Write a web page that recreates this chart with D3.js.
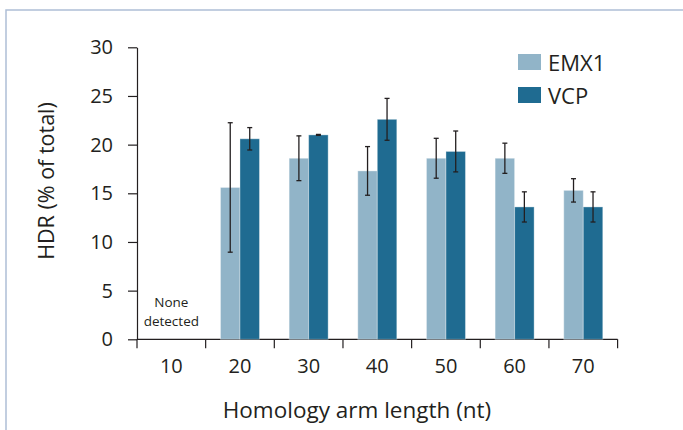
<!DOCTYPE html>
<html>
<head>
<meta charset="utf-8">
<script src="https://cdn.jsdelivr.net/npm/d3@7"></script>
<style>
  body { margin: 0; background: #fff; }
  svg { display: block; font-family: "Open Sans", sans-serif; }
</style>
</head>
<body>
<div id="container"></div>
<script>
// homology arm length categories (nt)
const lengths = ['10', '20', '30', '40', '50', '60', '70']
const seriesNames = ['EMX1', 'VCP']
// HDR (% of total), null = none detected
const emx1 = [null, 15.6, 18.6, 17.3, 18.6, 18.6, 15.3]
const emx1Err = [null, 6.65, 2.3, 2.5, 2.05, 1.55, 1.2]
const vcp = [null, 20.6, 21.0, 22.6, 19.3, 13.6, 13.6]
const vcpErr = [null, 1.15, 0.05, 2.15, 2.1, 1.55, 1.55]
const yTicks = [0, 5, 10, 15, 20, 25, 30]

const width = 683
const height = 430
const textColor = '#231f20'
const colors = { EMX1: '#91b4c8', VCP: '#1f6b91' }

const svg = d3.select('#container')
    .append('svg')
    .attr('width', width)
    .attr('height', height)

// frame
svg.append('path')
    .attr('d', `M6,${height} V10 H${width}`)
    .attr('fill', 'none')
    .attr('stroke', '#aebfd6')
    .attr('stroke-width', 1.5)

const x = d3.scaleBand()
    .domain(lengths)
    .range([137, 617.6])
    .padding(0)

const groupW = 39
const x1 = d3.scaleBand()
    .domain(seriesNames)
    .range([(x.bandwidth() - groupW) / 2, (x.bandwidth() + groupW) / 2])
    .padding(0)

const y = d3.scaleLinear()
    .domain([0, 30])
    .range([339.3, 47.3])

// y axis
const yAxis = d3.axisLeft(y)
    .tickValues(yTicks)
    .tickSize(9)
    .tickSizeOuter(0)
    .tickPadding(15)
svg.append('g')
    .attr('transform', 'translate(137, 0)')
    .call(yAxis)
    .call(g => g.selectAll('path, line').attr('stroke', textColor).attr('stroke-width', 1.2))
    .call(g => g.selectAll('text')
        .attr('fill', textColor)
        .attr('font-size', 20)
        .attr('font-family', '"Open Sans", sans-serif'))

// x axis: line, boundary ticks, centered labels
const xAxisG = svg.append('g').attr('transform', `translate(0, ${y(0)})`)
xAxisG.append('line')
    .attr('x1', x.range()[0]).attr('x2', x.range()[1])
    .attr('stroke', textColor).attr('stroke-width', 1.2)
const edges = lengths.map(d => x(d)).concat([x.range()[1]])
xAxisG.selectAll('.tick-edge').data(edges)
    .join('line')
    .attr('class', 'tick-edge')
    .attr('x1', d => d).attr('x2', d => d)
    .attr('y1', 0).attr('y2', 9)
    .attr('stroke', textColor).attr('stroke-width', 1.2)
xAxisG.selectAll('.tick-label').data(lengths)
    .join('text')
    .attr('class', 'tick-label')
    .attr('x', d => x(d) + x.bandwidth() / 2)
    .attr('y', 34)
    .attr('text-anchor', 'middle')
    .attr('font-size', 20)
    .attr('fill', textColor)
    .text(d => d)

// bars
const rows = lengths.map((d, i) => ({
    len: d,
    values: [
        { key: 'EMX1', value: emx1[i], err: emx1Err[i] },
        { key: 'VCP', value: vcp[i], err: vcpErr[i] }
    ].filter(v => v.value != null)
}))

const groups = svg.selectAll('.group').data(rows)
    .join('g')
    .attr('class', 'group')
    .attr('transform', d => `translate(${x(d.len)}, 0)`)

groups.selectAll('rect').data(d => d.values)
    .join('rect')
    .attr('x', d => x1(d.key))
    .attr('y', d => y(d.value))
    .attr('width', x1.bandwidth())
    .attr('height', d => y(0) - y(d.value))
    .attr('fill', d => colors[d.key])
    .attr('stroke', 'rgba(255,255,255,0.35)')
    .attr('stroke-width', 1)

// error bars
const err = groups.selectAll('.err').data(d => d.values)
    .join('g')
    .attr('class', 'err')
    .attr('transform', d => `translate(${x1(d.key) + x1.bandwidth() / 2}, 0)`)
    .attr('stroke', textColor)
    .attr('stroke-width', 1.3)
err.append('line')
    .attr('y1', d => y(d.value + d.err))
    .attr('y2', d => y(d.value - d.err))
err.append('line')
    .attr('x1', -2.5).attr('x2', 2.5)
    .attr('y1', d => y(d.value + d.err))
    .attr('y2', d => y(d.value + d.err))
err.append('line')
    .attr('x1', -2.5).attr('x2', 2.5)
    .attr('y1', d => y(d.value - d.err))
    .attr('y2', d => y(d.value - d.err))

// none detected note
const noneX = x('10') + x.bandwidth() / 2
const note = svg.append('text')
    .attr('y', 307)
    .attr('text-anchor', 'middle')
    .attr('font-size', 13.5)
    .attr('fill', textColor)
note.append('tspan').attr('x', noneX).text('None')
note.append('tspan').attr('x', noneX).attr('dy', 18.5).text('detected')

// axis titles
svg.append('text')
    .attr('x', 357)
    .attr('y', 418)
    .attr('text-anchor', 'middle')
    .attr('font-size', 22.5)
    .attr('fill', textColor)
    .text('Homology arm length (nt)')

svg.append('text')
    .attr('transform', 'translate(54, 181) rotate(-90)')
    .attr('text-anchor', 'middle')
    .attr('font-size', 21.5)
    .attr('fill', textColor)
    .text('HDR (% of total)')

// legend
const legend = svg.append('g').attr('transform', 'translate(518, 54)')
const legendItem = legend.selectAll('g').data(seriesNames)
    .join('g')
    .attr('transform', (d, i) => `translate(0, ${i * 33})`)
legendItem.append('rect')
    .attr('width', 23)
    .attr('height', 16)
    .attr('fill', d => colors[d])
legendItem.append('text')
    .attr('x', 30)
    .attr('y', 17)
    .attr('font-size', 22)
    .attr('fill', textColor)
    .text(d => d)
</script>
</body>
</html>
